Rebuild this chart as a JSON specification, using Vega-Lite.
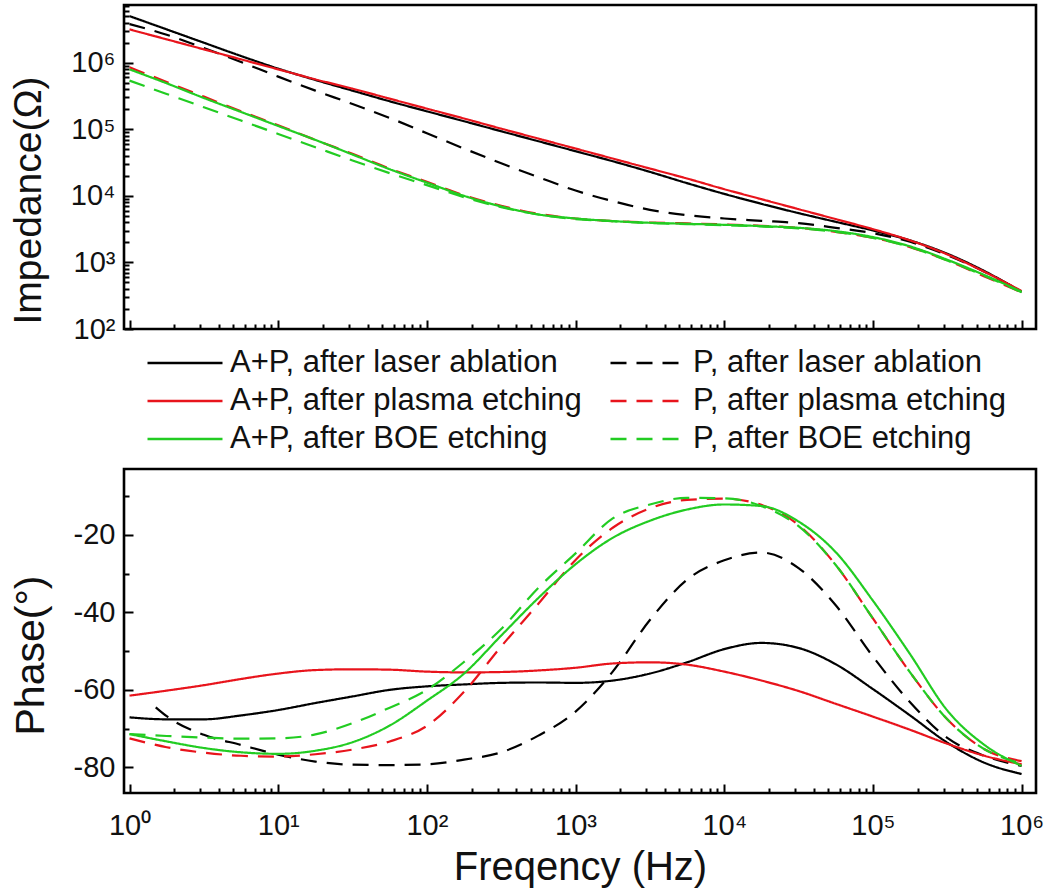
{
"$schema": "https://vega.github.io/schema/vega-lite/v6.json",
"padding": {"left": 7, "top": 3, "right": 8, "bottom": 2},
"spacing": 8,
"config": {
  "font": "Liberation Sans",
  "view": {"stroke": "#000000", "strokeWidth": 2.6},
  "axis": {"domain": false, "grid": false, "labelFont": "Liberation Sans", "labelFontSize": 29, "labelColor": "#111111", "titleFont": "Liberation Sans", "titleFontSize": 39, "titleFontWeight": "normal", "titleColor": "#111111", "tickColor": "#000000", "tickWidth": 2, "labelOverlap": false, "labelFlush": false}
},
"datasets": {
"imp": [
{"s":"A+P, after laser ablation","f":1,"z":5010000},{"s":"A+P, after laser ablation","f":1.778,"z":3160000},{"s":"A+P, after laser ablation","f":3.162,"z":1995000},{"s":"A+P, after laser ablation","f":5.623,"z":1259000},{"s":"A+P, after laser ablation","f":10,"z":813000},{"s":"A+P, after laser ablation","f":17.78,"z":550000},{"s":"A+P, after laser ablation","f":31.62,"z":380000},{"s":"A+P, after laser ablation","f":56.23,"z":263000},{"s":"A+P, after laser ablation","f":100,"z":186000},{"s":"A+P, after laser ablation","f":177.8,"z":132000},{"s":"A+P, after laser ablation","f":316.2,"z":93300},{"s":"A+P, after laser ablation","f":562.3,"z":66100},{"s":"A+P, after laser ablation","f":1000,"z":46800},{"s":"A+P, after laser ablation","f":1778,"z":33100},{"s":"A+P, after laser ablation","f":3162,"z":22900},{"s":"A+P, after laser ablation","f":5623,"z":15500},{"s":"A+P, after laser ablation","f":10000,"z":10700},{"s":"A+P, after laser ablation","f":17783,"z":7590},{"s":"A+P, after laser ablation","f":31623,"z":5500},{"s":"A+P, after laser ablation","f":56234,"z":4070},{"s":"A+P, after laser ablation","f":100000,"z":3020},{"s":"A+P, after laser ablation","f":177828,"z":2140},{"s":"A+P, after laser ablation","f":316228,"z":1350},{"s":"A+P, after laser ablation","f":562341,"z":741},{"s":"A+P, after laser ablation","f":1000000,"z":363},
{"s":"P, after laser ablation","f":1,"z":3800000},{"s":"P, after laser ablation","f":1.778,"z":2630000},{"s":"P, after laser ablation","f":3.162,"z":1660000},{"s":"P, after laser ablation","f":5.623,"z":1023000},{"s":"P, after laser ablation","f":10,"z":617000},{"s":"P, after laser ablation","f":17.78,"z":380000},{"s":"P, after laser ablation","f":31.62,"z":240000},{"s":"P, after laser ablation","f":56.23,"z":148000},{"s":"P, after laser ablation","f":100,"z":87100},{"s":"P, after laser ablation","f":177.8,"z":51300},{"s":"P, after laser ablation","f":316.2,"z":30900},{"s":"P, after laser ablation","f":562.3,"z":19100},{"s":"P, after laser ablation","f":1000,"z":12000},{"s":"P, after laser ablation","f":1778,"z":8320},{"s":"P, after laser ablation","f":3162,"z":6170},{"s":"P, after laser ablation","f":5623,"z":5130},{"s":"P, after laser ablation","f":10000,"z":4570},{"s":"P, after laser ablation","f":17783,"z":4220},{"s":"P, after laser ablation","f":31623,"z":3890},{"s":"P, after laser ablation","f":56234,"z":3310},{"s":"P, after laser ablation","f":100000,"z":2750},{"s":"P, after laser ablation","f":177828,"z":2040},{"s":"P, after laser ablation","f":316228,"z":1290},{"s":"P, after laser ablation","f":562341,"z":724},{"s":"P, after laser ablation","f":1000000,"z":363},
{"s":"A+P, after plasma etching","f":1,"z":3160000},{"s":"A+P, after plasma etching","f":1.778,"z":2240000},{"s":"A+P, after plasma etching","f":3.162,"z":1585000},{"s":"A+P, after plasma etching","f":5.623,"z":1122000},{"s":"A+P, after plasma etching","f":10,"z":794000},{"s":"A+P, after plasma etching","f":17.78,"z":562000},{"s":"A+P, after plasma etching","f":31.62,"z":407000},{"s":"A+P, after plasma etching","f":56.23,"z":288000},{"s":"A+P, after plasma etching","f":100,"z":204000},{"s":"A+P, after plasma etching","f":177.8,"z":145000},{"s":"A+P, after plasma etching","f":316.2,"z":102000},{"s":"A+P, after plasma etching","f":562.3,"z":72400},{"s":"A+P, after plasma etching","f":1000,"z":51300},{"s":"A+P, after plasma etching","f":1778,"z":36300},{"s":"A+P, after plasma etching","f":3162,"z":25700},{"s":"A+P, after plasma etching","f":5623,"z":18200},{"s":"A+P, after plasma etching","f":10000,"z":12600},{"s":"A+P, after plasma etching","f":17783,"z":8910},{"s":"A+P, after plasma etching","f":31623,"z":6310},{"s":"A+P, after plasma etching","f":56234,"z":4470},{"s":"A+P, after plasma etching","f":100000,"z":3160},{"s":"A+P, after plasma etching","f":177828,"z":2140},{"s":"A+P, after plasma etching","f":316228,"z":1320},{"s":"A+P, after plasma etching","f":562341,"z":724},{"s":"A+P, after plasma etching","f":1000000,"z":372},
{"s":"P, after plasma etching","f":1,"z":851000},{"s":"P, after plasma etching","f":1.778,"z":513000},{"s":"P, after plasma etching","f":3.162,"z":309000},{"s":"P, after plasma etching","f":5.623,"z":186000},{"s":"P, after plasma etching","f":10,"z":115000},{"s":"P, after plasma etching","f":17.78,"z":69200},{"s":"P, after plasma etching","f":31.62,"z":42700},{"s":"P, after plasma etching","f":56.23,"z":25700},{"s":"P, after plasma etching","f":100,"z":16200},{"s":"P, after plasma etching","f":177.8,"z":10200},{"s":"P, after plasma etching","f":316.2,"z":7080},{"s":"P, after plasma etching","f":562.3,"z":5370},{"s":"P, after plasma etching","f":1000,"z":4570},{"s":"P, after plasma etching","f":1778,"z":4170},{"s":"P, after plasma etching","f":3162,"z":3980},{"s":"P, after plasma etching","f":5623,"z":3850},{"s":"P, after plasma etching","f":10000,"z":3720},{"s":"P, after plasma etching","f":17783,"z":3550},{"s":"P, after plasma etching","f":31623,"z":3310},{"s":"P, after plasma etching","f":56234,"z":2880},{"s":"P, after plasma etching","f":100000,"z":2340},{"s":"P, after plasma etching","f":177828,"z":1700},{"s":"P, after plasma etching","f":316228,"z":1070},{"s":"P, after plasma etching","f":562341,"z":617},{"s":"P, after plasma etching","f":1000000,"z":355},
{"s":"P, after BOE etching","f":1,"z":537000},{"s":"P, after BOE etching","f":1.778,"z":339000},{"s":"P, after BOE etching","f":3.162,"z":214000},{"s":"P, after BOE etching","f":5.623,"z":135000},{"s":"P, after BOE etching","f":10,"z":85100},{"s":"P, after BOE etching","f":17.78,"z":53700},{"s":"P, after BOE etching","f":31.62,"z":33900},{"s":"P, after BOE etching","f":56.23,"z":21900},{"s":"P, after BOE etching","f":100,"z":14500},{"s":"P, after BOE etching","f":177.8,"z":9550},{"s":"P, after BOE etching","f":316.2,"z":6760},{"s":"P, after BOE etching","f":562.3,"z":5250},{"s":"P, after BOE etching","f":1000,"z":4470},{"s":"P, after BOE etching","f":1778,"z":4170},{"s":"P, after BOE etching","f":3162,"z":3890},{"s":"P, after BOE etching","f":5623,"z":3760},{"s":"P, after BOE etching","f":10000,"z":3630},{"s":"P, after BOE etching","f":17783,"z":3470},{"s":"P, after BOE etching","f":31623,"z":3240},{"s":"P, after BOE etching","f":56234,"z":2880},{"s":"P, after BOE etching","f":100000,"z":2340},{"s":"P, after BOE etching","f":177828,"z":1700},{"s":"P, after BOE etching","f":316228,"z":1070},{"s":"P, after BOE etching","f":562341,"z":631},{"s":"P, after BOE etching","f":1000000,"z":355},
{"s":"A+P, after BOE etching","f":1,"z":794000},{"s":"A+P, after BOE etching","f":1.778,"z":490000},{"s":"A+P, after BOE etching","f":3.162,"z":295000},{"s":"A+P, after BOE etching","f":5.623,"z":182000},{"s":"A+P, after BOE etching","f":10,"z":112000},{"s":"A+P, after BOE etching","f":17.78,"z":69200},{"s":"A+P, after BOE etching","f":31.62,"z":41700},{"s":"A+P, after BOE etching","f":56.23,"z":25100},{"s":"A+P, after BOE etching","f":100,"z":15800},{"s":"A+P, after BOE etching","f":177.8,"z":10000},{"s":"A+P, after BOE etching","f":316.2,"z":6920},{"s":"A+P, after BOE etching","f":562.3,"z":5250},{"s":"A+P, after BOE etching","f":1000,"z":4570},{"s":"A+P, after BOE etching","f":1778,"z":4170},{"s":"A+P, after BOE etching","f":3162,"z":3940},{"s":"A+P, after BOE etching","f":5623,"z":3800},{"s":"A+P, after BOE etching","f":10000,"z":3670},{"s":"A+P, after BOE etching","f":17783,"z":3510},{"s":"A+P, after BOE etching","f":31623,"z":3310},{"s":"A+P, after BOE etching","f":56234,"z":2950},{"s":"A+P, after BOE etching","f":100000,"z":2400},{"s":"A+P, after BOE etching","f":177828,"z":1740},{"s":"A+P, after BOE etching","f":316228,"z":1096},{"s":"A+P, after BOE etching","f":562341,"z":646},{"s":"A+P, after BOE etching","f":1000000,"z":363}
],
"ph": [
{"s":"A+P, after laser ablation","f":1,"p":-67.1},{"s":"A+P, after laser ablation","f":1.778,"p":-67.6},{"s":"A+P, after laser ablation","f":3.162,"p":-67.6},{"s":"A+P, after laser ablation","f":5.623,"p":-66.6},{"s":"A+P, after laser ablation","f":10,"p":-65.2},{"s":"A+P, after laser ablation","f":17.78,"p":-63.4},{"s":"A+P, after laser ablation","f":31.62,"p":-61.7},{"s":"A+P, after laser ablation","f":56.23,"p":-60.0},{"s":"A+P, after laser ablation","f":100,"p":-59.1},{"s":"A+P, after laser ablation","f":177.8,"p":-58.6},{"s":"A+P, after laser ablation","f":316.2,"p":-58.2},{"s":"A+P, after laser ablation","f":562.3,"p":-58.1},{"s":"A+P, after laser ablation","f":1000,"p":-58.2},{"s":"A+P, after laser ablation","f":1778,"p":-57.6},{"s":"A+P, after laser ablation","f":3162,"p":-55.8},{"s":"A+P, after laser ablation","f":5623,"p":-52.9},{"s":"A+P, after laser ablation","f":10000,"p":-49.5},{"s":"A+P, after laser ablation","f":17783,"p":-47.9},{"s":"A+P, after laser ablation","f":31623,"p":-49.2},{"s":"A+P, after laser ablation","f":56234,"p":-53.4},{"s":"A+P, after laser ablation","f":100000,"p":-59.8},{"s":"A+P, after laser ablation","f":177828,"p":-66.6},{"s":"A+P, after laser ablation","f":316228,"p":-73.6},{"s":"A+P, after laser ablation","f":562341,"p":-78.8},{"s":"A+P, after laser ablation","f":1000000,"p":-81.7},
{"s":"P, after laser ablation","f":1.5,"p":-64.5},{"s":"P, after laser ablation","f":1.778,"p":-66.8},{"s":"P, after laser ablation","f":3.162,"p":-71.6},{"s":"P, after laser ablation","f":5.623,"p":-74.2},{"s":"P, after laser ablation","f":10,"p":-76.7},{"s":"P, after laser ablation","f":17.78,"p":-78.5},{"s":"P, after laser ablation","f":31.62,"p":-79.3},{"s":"P, after laser ablation","f":56.23,"p":-79.4},{"s":"P, after laser ablation","f":100,"p":-79.2},{"s":"P, after laser ablation","f":177.8,"p":-78.0},{"s":"P, after laser ablation","f":316.2,"p":-76.1},{"s":"P, after laser ablation","f":562.3,"p":-71.8},{"s":"P, after laser ablation","f":1000,"p":-65.6},{"s":"P, after laser ablation","f":1778,"p":-55.3},{"s":"P, after laser ablation","f":3162,"p":-42.0},{"s":"P, after laser ablation","f":5623,"p":-31.6},{"s":"P, after laser ablation","f":10000,"p":-26.6},{"s":"P, after laser ablation","f":17783,"p":-24.6},{"s":"P, after laser ablation","f":31623,"p":-28.6},{"s":"P, after laser ablation","f":56234,"p":-38.2},{"s":"P, after laser ablation","f":100000,"p":-51.4},{"s":"P, after laser ablation","f":177828,"p":-63.2},{"s":"P, after laser ablation","f":316228,"p":-72.4},{"s":"P, after laser ablation","f":562341,"p":-77.0},{"s":"P, after laser ablation","f":1000000,"p":-79.6},
{"s":"A+P, after plasma etching","f":1,"p":-61.5},{"s":"A+P, after plasma etching","f":1.778,"p":-60.2},{"s":"A+P, after plasma etching","f":3.162,"p":-58.8},{"s":"A+P, after plasma etching","f":5.623,"p":-57.2},{"s":"A+P, after plasma etching","f":10,"p":-55.8},{"s":"A+P, after plasma etching","f":17.78,"p":-54.9},{"s":"A+P, after plasma etching","f":31.62,"p":-54.7},{"s":"A+P, after plasma etching","f":56.23,"p":-54.8},{"s":"A+P, after plasma etching","f":100,"p":-55.3},{"s":"A+P, after plasma etching","f":177.8,"p":-55.5},{"s":"A+P, after plasma etching","f":316.2,"p":-55.4},{"s":"A+P, after plasma etching","f":562.3,"p":-55.0},{"s":"A+P, after plasma etching","f":1000,"p":-54.3},{"s":"A+P, after plasma etching","f":1778,"p":-53.2},{"s":"A+P, after plasma etching","f":3162,"p":-52.9},{"s":"A+P, after plasma etching","f":5623,"p":-53.5},{"s":"A+P, after plasma etching","f":10000,"p":-55.3},{"s":"A+P, after plasma etching","f":17783,"p":-57.6},{"s":"A+P, after plasma etching","f":31623,"p":-60.3},{"s":"A+P, after plasma etching","f":56234,"p":-63.6},{"s":"A+P, after plasma etching","f":100000,"p":-66.9},{"s":"A+P, after plasma etching","f":177828,"p":-70.3},{"s":"A+P, after plasma etching","f":316228,"p":-73.9},{"s":"A+P, after plasma etching","f":562341,"p":-77.0},{"s":"A+P, after plasma etching","f":1000000,"p":-79.2},
{"s":"P, after plasma etching","f":1,"p":-72.5},{"s":"P, after plasma etching","f":1.778,"p":-74.8},{"s":"P, after plasma etching","f":3.162,"p":-76.2},{"s":"P, after plasma etching","f":5.623,"p":-77.0},{"s":"P, after plasma etching","f":10,"p":-77.2},{"s":"P, after plasma etching","f":17.78,"p":-76.6},{"s":"P, after plasma etching","f":31.62,"p":-75.4},{"s":"P, after plasma etching","f":56.23,"p":-73.3},{"s":"P, after plasma etching","f":100,"p":-69.3},{"s":"P, after plasma etching","f":177.8,"p":-60.5},{"s":"P, after plasma etching","f":316.2,"p":-48.8},{"s":"P, after plasma etching","f":562.3,"p":-37.8},{"s":"P, after plasma etching","f":1000,"p":-26.5},{"s":"P, after plasma etching","f":1778,"p":-18.2},{"s":"P, after plasma etching","f":3162,"p":-13.2},{"s":"P, after plasma etching","f":5623,"p":-11.0},{"s":"P, after plasma etching","f":10000,"p":-10.7},{"s":"P, after plasma etching","f":17783,"p":-12.3},{"s":"P, after plasma etching","f":31623,"p":-17.5},{"s":"P, after plasma etching","f":56234,"p":-27.8},{"s":"P, after plasma etching","f":100000,"p":-41.6},{"s":"P, after plasma etching","f":177828,"p":-55.5},{"s":"P, after plasma etching","f":316228,"p":-67.6},{"s":"P, after plasma etching","f":562341,"p":-75.3},{"s":"P, after plasma etching","f":1000000,"p":-78.4},
{"s":"P, after BOE etching","f":1,"p":-71.4},{"s":"P, after BOE etching","f":1.778,"p":-71.9},{"s":"P, after BOE etching","f":3.162,"p":-72.3},{"s":"P, after BOE etching","f":5.623,"p":-72.6},{"s":"P, after BOE etching","f":10,"p":-72.5},{"s":"P, after BOE etching","f":17.78,"p":-71.5},{"s":"P, after BOE etching","f":31.62,"p":-68.6},{"s":"P, after BOE etching","f":56.23,"p":-64.6},{"s":"P, after BOE etching","f":100,"p":-60.0},{"s":"P, after BOE etching","f":177.8,"p":-52.8},{"s":"P, after BOE etching","f":316.2,"p":-44.3},{"s":"P, after BOE etching","f":562.3,"p":-33.7},{"s":"P, after BOE etching","f":1000,"p":-24.8},{"s":"P, after BOE etching","f":1778,"p":-15.8},{"s":"P, after BOE etching","f":3162,"p":-12.2},{"s":"P, after BOE etching","f":5623,"p":-10.5},{"s":"P, after BOE etching","f":10000,"p":-10.6},{"s":"P, after BOE etching","f":17783,"p":-12.6},{"s":"P, after BOE etching","f":31623,"p":-17.8},{"s":"P, after BOE etching","f":56234,"p":-27.8},{"s":"P, after BOE etching","f":100000,"p":-41.6},{"s":"P, after BOE etching","f":177828,"p":-55.5},{"s":"P, after BOE etching","f":316228,"p":-67.6},{"s":"P, after BOE etching","f":562341,"p":-75.3},{"s":"P, after BOE etching","f":1000000,"p":-79.0},
{"s":"A+P, after BOE etching","f":1,"p":-71.4},{"s":"A+P, after BOE etching","f":1.778,"p":-73.3},{"s":"A+P, after BOE etching","f":3.162,"p":-75.0},{"s":"A+P, after BOE etching","f":5.623,"p":-76.1},{"s":"A+P, after BOE etching","f":10,"p":-76.5},{"s":"A+P, after BOE etching","f":17.78,"p":-75.7},{"s":"A+P, after BOE etching","f":31.62,"p":-73.5},{"s":"A+P, after BOE etching","f":56.23,"p":-69.2},{"s":"A+P, after BOE etching","f":100,"p":-62.8},{"s":"A+P, after BOE etching","f":177.8,"p":-55.8},{"s":"A+P, after BOE etching","f":316.2,"p":-46.0},{"s":"A+P, after BOE etching","f":562.3,"p":-36.3},{"s":"A+P, after BOE etching","f":1000,"p":-27.6},{"s":"A+P, after BOE etching","f":1778,"p":-20.8},{"s":"A+P, after BOE etching","f":3162,"p":-16.4},{"s":"A+P, after BOE etching","f":5623,"p":-13.5},{"s":"A+P, after BOE etching","f":10000,"p":-12.2},{"s":"A+P, after BOE etching","f":17783,"p":-12.6},{"s":"A+P, after BOE etching","f":31623,"p":-16.6},{"s":"A+P, after BOE etching","f":56234,"p":-24.5},{"s":"A+P, after BOE etching","f":100000,"p":-37.0},{"s":"A+P, after BOE etching","f":177828,"p":-50.8},{"s":"A+P, after BOE etching","f":316228,"p":-65.3},{"s":"A+P, after BOE etching","f":562341,"p":-74.2},{"s":"A+P, after BOE etching","f":1000000,"p":-79.6}
]
},
"resolve": {"legend": {"color": "independent", "strokeDash": "independent"}},
"vconcat": [
{
 "width": 912, "height": 324,
 "data": {"name": "imp"},
 "mark": {"type": "line", "strokeWidth": 2.2, "interpolate": "monotone"},
 "encoding": {
  "x": {"field": "f", "type": "quantitative",
        "scale": {"type": "log", "domain": [0.918, 1250000], "nice": false},
        "axis": {"values": [1,2,3,4,5,6,7,8,9,10,20,30,40,50,60,70,80,90,100,200,300,400,500,600,700,800,900,1000,2000,3000,4000,5000,6000,7000,8000,9000,10000,20000,30000,40000,50000,60000,70000,80000,90000,100000,200000,300000,400000,500000,600000,700000,800000,900000,1000000],
                 "labels": false, "title": null,
                 "tickSize": {"expr": "abs(log(datum.value)/LN10 - round(log(datum.value)/LN10)) < 0.001 ? -9 : -5"}}},
  "y": {"field": "z", "type": "quantitative",
        "scale": {"type": "log", "domain": [100, 7350000], "nice": false},
        "axis": {"values": [100,200,300,400,500,600,700,800,900,1000,2000,3000,4000,5000,6000,7000,8000,9000,10000,20000,30000,40000,50000,60000,70000,80000,90000,100000,200000,300000,400000,500000,600000,700000,800000,900000,1000000,2000000,3000000,4000000,5000000,6000000,7000000],
                 "labelExpr": "abs(log(datum.value)/LN10 - round(log(datum.value)/LN10)) < 0.001 ? '10' + ['⁰','¹','²','³','⁴','⁵','⁶','⁷'][round(log(datum.value)/LN10)] : ''",
                 "labelFontSize": {"condition": {"test": "abs(log(datum.value)/LN10 - round(log(datum.value)/LN10)) < 0.001", "value": 29}, "value": 0},
                 "labelPadding": 18,
                 "tickSize": {"expr": "abs(log(datum.value)/LN10 - round(log(datum.value)/LN10)) < 0.001 ? -9 : -5"},
                 "title": "Impedance(Ω)", "titlePadding": 22, "titleY": 195}},
  "color": {"field": "s", "type": "nominal",
            "scale": {"domain": ["A+P, after laser ablation","A+P, after plasma etching","A+P, after BOE etching","P, after laser ablation","P, after plasma etching","P, after BOE etching"],
                      "range": ["#000000","#e8141c","#22cc22","#000000","#e8141c","#22cc22"]},
            "legend": {"title": null, "orient": "none", "legendX": 22, "legendY": 340, "columns": 2, "symbolType": "stroke", "symbolSize": 5625, "symbolStrokeWidth": 2.5, "clipHeight": 36, "labelFontSize": 31, "labelFont": "Liberation Sans", "labelColor": "#111111", "labelOffset": 6, "columnPadding": 27, "rowPadding": 2, "labelLimit": 600}},
  "strokeDash": {"field": "s", "type": "nominal",
            "scale": {"domain": ["A+P, after laser ablation","A+P, after plasma etching","A+P, after BOE etching","P, after laser ablation","P, after plasma etching","P, after BOE etching"],
                      "range": [[1,0],[1,0],[1,0],[16,10],[16,10],[16,10]]},
            "legend": {"title": null, "orient": "none", "legendX": 22, "legendY": 340, "columns": 2, "symbolType": "stroke", "symbolSize": 5625, "symbolStrokeWidth": 2.5, "clipHeight": 36, "labelFontSize": 31, "labelFont": "Liberation Sans", "labelColor": "#111111", "labelOffset": 6, "columnPadding": 27, "rowPadding": 2, "labelLimit": 600}}
 }
},
{
 "width": 912, "height": 324,
 "data": {"name": "ph"},
 "mark": {"type": "line", "strokeWidth": 2.2, "interpolate": "monotone"},
 "encoding": {
  "x": {"field": "f", "type": "quantitative",
        "scale": {"type": "log", "domain": [0.918, 1250000], "nice": false},
        "axis": {"values": [1,2,3,4,5,6,7,8,9,10,20,30,40,50,60,70,80,90,100,200,300,400,500,600,700,800,900,1000,2000,3000,4000,5000,6000,7000,8000,9000,10000,20000,30000,40000,50000,60000,70000,80000,90000,100000,200000,300000,400000,500000,600000,700000,800000,900000,1000000],
                 "labelExpr": "abs(log(datum.value)/LN10 - round(log(datum.value)/LN10)) < 0.001 ? '10' + ['⁰','¹','²','³','⁴','⁵','⁶','⁷'][round(log(datum.value)/LN10)] : ''",
                 "labelPadding": 27,
                 "tickSize": {"expr": "abs(log(datum.value)/LN10 - round(log(datum.value)/LN10)) < 0.001 ? -9 : -5"},
                 "title": "Freqency (Hz)", "titleFontSize": 40, "titlePadding": 3}},
  "y": {"field": "p", "type": "quantitative",
        "scale": {"domain": [-86.6, -3.05], "nice": false, "zero": false},
        "axis": {"values": [-80,-70,-60,-50,-40,-30,-20,-10],
                 "labelExpr": "datum.value % 20 == 0 ? '' + datum.value : ''",
                 "labelPadding": 18,
                 "tickSize": {"expr": "datum.value % 20 == 0 ? -9 : -5"},
                 "title": "Phase(°)", "titleFontSize": 41, "titlePadding": 21, "titleY": 186}},
  "color": {"field": "s", "type": "nominal",
            "scale": {"domain": ["A+P, after laser ablation","A+P, after plasma etching","A+P, after BOE etching","P, after laser ablation","P, after plasma etching","P, after BOE etching"],
                      "range": ["#000000","#e8141c","#22cc22","#000000","#e8141c","#22cc22"]},
            "legend": null},
  "strokeDash": {"field": "s", "type": "nominal",
            "scale": {"domain": ["A+P, after laser ablation","A+P, after plasma etching","A+P, after BOE etching","P, after laser ablation","P, after plasma etching","P, after BOE etching"],
                      "range": [[1,0],[1,0],[1,0],[16,10],[16,10],[16,10]]},
            "legend": null}
 }
}
]
}
